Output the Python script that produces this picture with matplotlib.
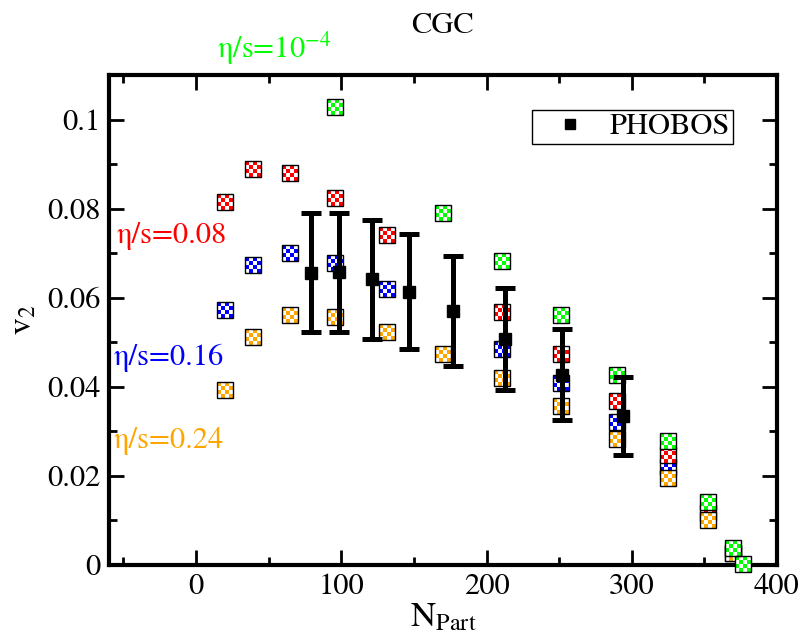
import numpy as np
import matplotlib
matplotlib.use("Agg")
import matplotlib.pyplot as plt
from matplotlib.path import Path
from matplotlib.lines import Line2D

plt.rcParams['font.family'] = ['STIXGeneral', 'DejaVu Serif']
plt.rcParams['mathtext.fontset'] = 'stix'

# model curves
x_green = [96, 170, 211, 251.5, 290, 325, 352.5, 370, 376.5]
v2_green = [0.1029, 0.0790, 0.0682, 0.0561, 0.0427, 0.0279, 0.0141, 0.0038, 0.0003]

x_red = [20, 39.5, 64.5, 96, 131.5, 211, 251.5, 290, 325, 352.5, 370]
v2_red = [0.0815, 0.0889, 0.0880, 0.0824, 0.0741, 0.0568, 0.0473, 0.0369, 0.0246, 0.0117, 0.0028]

x_blue = [20, 39.5, 64.5, 96, 131.5, 211, 251.5, 290, 325]
v2_blue = [0.0573, 0.0673, 0.0701, 0.0678, 0.0619, 0.0485, 0.0409, 0.0322, 0.0221]

x_orange = [20, 39.5, 64.5, 96, 131.5, 170, 211, 251.5, 290, 325, 352.5, 370]
v2_orange = [0.0394, 0.0512, 0.0562, 0.0557, 0.0522, 0.0473, 0.0420, 0.0358, 0.0284, 0.0195, 0.0100, 0.0027]

# PHOBOS data
x_phobos = [79.3, 98.4, 121.2, 146.9, 177.2, 212.4, 252.2, 294.3]
v2_phobos = [0.0656, 0.0657, 0.0641, 0.0613, 0.0570, 0.0508, 0.0427, 0.0334]
err_phobos = [0.0134, 0.0134, 0.0134, 0.0129, 0.0124, 0.0115, 0.0102, 0.0087]


def checker_path(n=4):
    verts, codes = [], []
    d = 2.0 / n
    for i in range(n):
        for j in range(n):
            if (i + j) % 2 == 0:
                x0 = -1 + i * d
                y0 = -1 + j * d
                verts += [(x0, y0), (x0 + d, y0), (x0 + d, y0 + d), (x0, y0 + d), (x0, y0)]
                codes += [Path.MOVETO, Path.LINETO, Path.LINETO, Path.LINETO, Path.CLOSEPOLY]
    return Path(verts, codes)


checker = checker_path(4)


def checker_points(ax, x, y, color, z, ms=11):
    ax.plot(x, y, ls='none', marker='s', ms=ms, mfc=color, mec='none', zorder=z, clip_on=False)
    ax.plot(x, y, ls='none', marker=checker, ms=ms, mfc='white', mec='none', mew=0, zorder=z + 0.01, clip_on=False)
    ax.plot(x, y, ls='none', marker='s', ms=ms, mfc='none', mec='black', mew=1, zorder=z + 0.02, clip_on=False)


fig = plt.figure(figsize=(8.01, 6.38), dpi=100)
ax = fig.add_axes([0.136, 0.1144, 0.834, 0.768])

checker_points(ax, x_blue, v2_blue, '#0000ff', 4)
checker_points(ax, x_red, v2_red, '#ff0000', 5)
checker_points(ax, x_orange, v2_orange, '#ffa500', 6)
checker_points(ax, x_green, v2_green, '#00ff00', 7)

ax.errorbar(x_phobos, v2_phobos, yerr=err_phobos, fmt='s', color='black', ms=9,
            elinewidth=3.6, capsize=7.5, capthick=3.6, zorder=10)

ax.set_xlim(-60, 400)
ax.set_ylim(0, 0.11)
ax.set_xticks([0, 100, 200, 300, 400])
ax.set_xticks(np.arange(-50, 400, 50), minor=True)
ax.set_yticks([0, 0.02, 0.04, 0.06, 0.08, 0.1])
ax.set_yticks(np.arange(0.01, 0.11, 0.02), minor=True)
ax.set_yticklabels(['0', '0.02', '0.04', '0.06', '0.08', '0.1'])
ax.tick_params(which='both', direction='in', top=True, right=True, width=2, labelsize=22, pad=6)
ax.tick_params(which='major', length=11)
ax.tick_params(which='minor', length=6)
for sp in ax.spines.values():
    sp.set_linewidth(3)

ax.set_xlabel(r'N$_{\mathregular{Part}}$', fontsize=25, labelpad=1)
ax.set_ylabel(r'v$_{\mathregular{2}}$', fontsize=24, labelpad=6)

fig.text(0.552, 0.948, 'CGC', fontsize=22, ha='center', va='baseline')

ax.text(-54.5, 0.0722, 'η/s=0.08', color='#ff0000', fontsize=22, va='baseline')
ax.text(-57, 0.0448, 'η/s=0.16', color='#0000ff', fontsize=22, va='baseline')
ax.text(-56.5, 0.0262, 'η/s=0.24', color='#ffa500', fontsize=22, va='baseline')
ax.text(14.5, 0.1140, r'η/s=10$^{\mathregular{-4}}$', color='#00ff00', fontsize=22, va='baseline',
        clip_on=False)

handle = Line2D([], [], ls='none', marker='s', color='black', ms=7)
leg = ax.legend([handle], ['PHOBOS'], loc='upper right', bbox_to_anchor=(0.934, 0.929),
                borderaxespad=0, fontsize=22, fancybox=False, framealpha=1,
                handlelength=2.3, handletextpad=0.15, borderpad=0.1)
leg.get_frame().set_edgecolor('black')
leg.get_frame().set_linewidth(1)

fig.savefig('out.png', dpi=100)
